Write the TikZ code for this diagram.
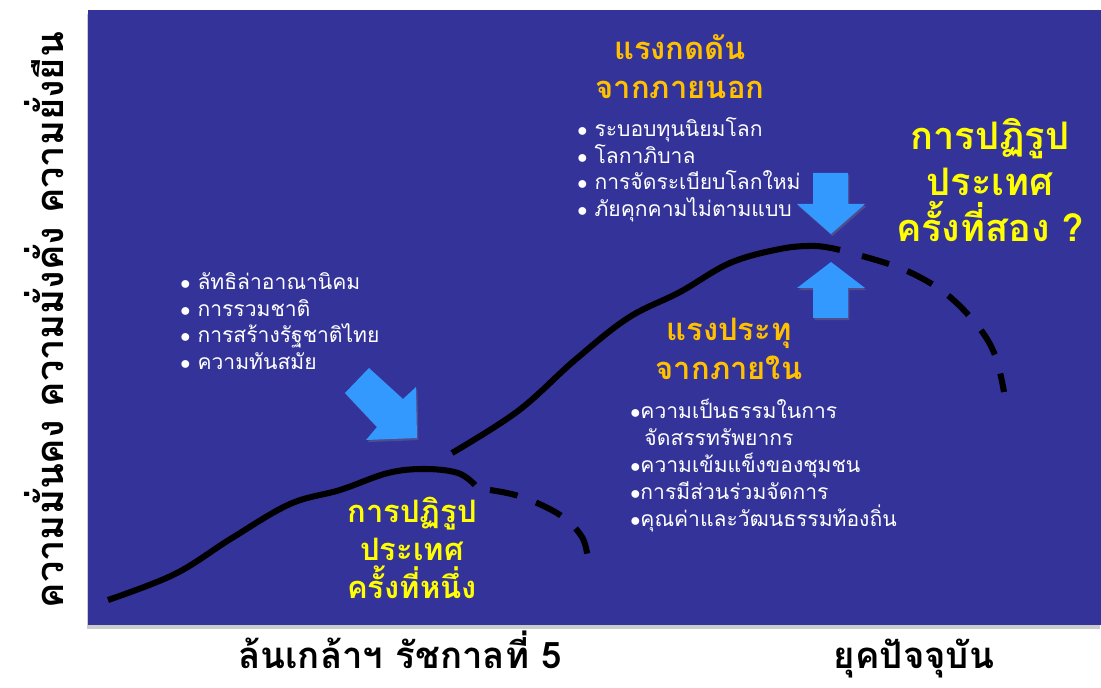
\documentclass[tikz,border=0pt]{standalone}
\usepackage{fontspec}
\setmainfont[Script=Thai]{Loma}
\usetikzlibrary{shadows}
\definecolor{slideblue}{RGB}{51,51,153}
\definecolor{arrowblue}{RGB}{51,153,255}
\definecolor{headorange}{RGB}{255,192,0}
\definecolor{reformyellow}{RGB}{255,255,0}
\begin{document}
\begin{tikzpicture}[x=0.025cm,y=-0.025cm,
  curveline/.style={line width=4.3pt, black, line join=round, line cap=butt},
  dashline/.style={curveline, dash pattern=on 20pt off 14pt},
  bigarrow/.style={fill=arrowblue, draw=none, drop shadow={opacity=0.35, shadow xshift=1pt, shadow yshift=-1.5pt}},
  headtext/.style={text=headorange, font=\fontsize{22}{27.7}\selectfont\bfseries, align=center},
  reformtext/.style={text=reformyellow, font=\fontsize{22}{27}\selectfont\bfseries, align=center},
  itemtext/.style={text=white, font=\fontsize{15}{19.1}\selectfont, align=left, anchor=north west, inner sep=0pt},
  axistext/.style={text=black, font=\fontsize{27}{30}\selectfont\bfseries}]
\useasboundingbox (0,0) rectangle (1101,688);
\fill[white] (0,0) rectangle (1101,688);
% panel
\fill[slideblue, drop shadow={opacity=0.4, shadow xshift=-1pt, shadow yshift=-2.5pt}] (88,10) rectangle (1101,625);
% first curve
\draw[curveline] plot[smooth, tension=0.6] coordinates {(108,600) (175,574) (232,538) (290,504) (340,490) (388,473) (425,469) (458,473) (475,485)};
\draw[dashline] plot[smooth, tension=0.6] coordinates {(490,490) (522,497) (560,515) (582,537) (588,560)};
% second curve
\draw[curveline] plot[smooth, tension=0.6] coordinates {(452,453) (518,411) (575,360) (628,318) (680,292) (730,263) (780,249) (815,246) (840,250)};
\draw[dashline] plot[smooth, tension=0.6] coordinates {(862,256) (905,270) (945,293) (977,325) (995,355) (1004,392)};
% arrows
\fill[bigarrow] (345,393) -- (369,368) -- (403,399) -- (416,387) -- (417,438) -- (366,440) -- (377,427) -- cycle;
\fill[bigarrow] (813,173) -- (848,173) -- (848,204) -- (865,204) -- (831,234) -- (797,204) -- (813,204) -- cycle;
\fill[bigarrow] (813,318) -- (848,318) -- (848,288) -- (865,288) -- (831,262) -- (797,288) -- (813,288) -- cycle;
% texts
\node[headtext] (outerhead) at (680,67) {แรงกดดัน\\จากภายนอก};
\node[itemtext] (outerlist) at (577,117) {$\bullet$\ ระบอบทุนนิยมโลก\\$\bullet$\ โลกาภิบาล\\$\bullet$\ การจัดระเบียบโลกใหม่\\$\bullet$\ ภัยคุกคามไม่ตามแบบ};
\node[reformtext, font=\fontsize{27}{32.6}\selectfont\bfseries] (secondreform) at (990,180) {การปฏิรูป\\ประเทศ\\ครั้งที่สอง ?};
\node[itemtext] (colonlist) at (180,272) {$\bullet$\ ลัทธิล่าอาณานิคม\\$\bullet$\ การรวมชาติ\\$\bullet$\ การสร้างรัฐชาติไทย\\$\bullet$\ ความทันสมัย};
\node[headtext] (innerhead) at (729,349) {แรงประทุ\\จากภายใน};
\node[itemtext] (innerlist) at (630,399) {$\bullet$ความเป็นธรรมในการ\\\ \ จัดสรรทรัพยากร\\$\bullet$ความเข้มแข็งของชุมชน\\$\bullet$การมีส่วนร่วมจัดการ\\$\bullet$คุณค่าและวัฒนธรรมท้องถิ่น};
\node[reformtext] (firstreform) at (412,548) {การปฏิรูป\\ประเทศ\\ครั้งที่หนึ่ง};
\node[axistext, font=\fontsize{26}{30}\selectfont\bfseries, anchor=base, inner sep=0pt, text depth=0pt] (reignlabel) at (400,669) {ล้นเกล้าฯ รัชกาลที่ 5};
\node[axistext, font=\fontsize{26}{30}\selectfont\bfseries, anchor=base, inner sep=0pt, text depth=0pt] (nowlabel) at (914,669) {ยุคปัจจุบัน};
\node[axistext, rotate=90] (stablelabel) at (44,320) {ความมั่นคง ความมั่งคั่ง ความยั่งยืน};
\end{tikzpicture}
\end{document}
